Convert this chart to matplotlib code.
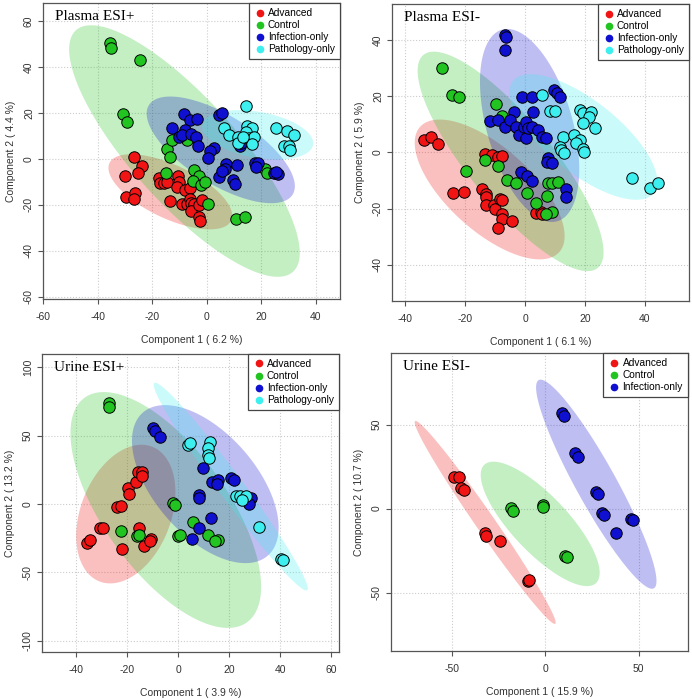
import numpy as np
import matplotlib
matplotlib.use('Agg')
import matplotlib.pyplot as plt
from matplotlib.patches import Polygon

plt.rcParams['font.family'] = ['Liberation Sans', 'DejaVu Sans']
plt.rcParams['axes.unicode_minus'] = False

# group colours
colors = {'Advanced': '#F01414', 'Control': '#22C422',
          'Infection-only': '#1010D0', 'Pathology-only': '#3EEFEF'}

# ---- Plasma ESI+ ----
p1_adv_x = [-26.7, -23.9, -25.3, -29.9, -29.5, -26.3, -26.6, -17.5, -17.0, -15.8, -14.5, -10.5, -10.3, -10.9,
            -7.8, -6.3, -13.3, -9.0, -7.2, -6.0, -5.7, -4.8, -5.7, -2.9, -1.7, -2.9, -2.3]
p1_adv_y = [0.6, -3.3, -6.2, -7.3, -16.4, -15.0, -17.6, -8.4, -10.6, -10.6, -9.9, -7.4, -9.9, -12.3,
            -13.5, -12.8, -18.3, -19.6, -19.6, -17.6, -19.3, -19.6, -22.8, -20.0, -17.9, -25.1, -26.9]
p1_con_x = [-35.3, -34.9, -24.5, -30.8, -29.1, -14.5, -13.3, -12.7, -7.2, -14.9, -4.5, -2.7, -5.0, -2.0,
            -0.6, 0.4, 10.6, 13.9, 21.5, 22.1]
p1_con_y = [50.4, 48.2, 43.1, 19.4, 16.1, 4.4, 0.7, 8.3, 8.3, -6.2, -4.8, -7.3, -9.6, -11.3,
            -9.9, -19.7, -26.1, -25.5, -4.5, -6.2]
p1_inf_x = [-8.5, -6.3, -3.7, -12.6, -8.1, -10.3, -9.0, -5.6, -3.9, -3.2, 4.5, 5.7, 2.6, 1.3, 0.4, 12.1,
            12.6, 7.0, 6.7, 4.6, 5.7, 11.1, 9.5, 10.5, 17.8, 18.8, 18.2, 24.5, 26.0, 25.4]
p1_inf_y = [19.6, 16.8, 17.4, 13.6, 12.6, 9.3, 10.3, 10.6, 9.3, 5.4, 18.9, 19.9, 4.9, 3.2, 0.4, 5.7,
            7.1, -2.2, -4.4, -7.7, -5.5, -2.5, -9.4, -10.9, -1.9, -1.6, -3.6, -6.1, -6.4, -5.8]
p1_pat_x = [14.5, 6.3, 8.2, 11.4, 11.4, 14.8, 16.7, 14.3, 15.4, 17.2, 16.5, 13.3, 25.5, 29.4, 32.1,
            28.4, 30.0, 30.4]
p1_pat_y = [23.1, 13.6, 10.4, 9.4, 6.8, 14.1, 13.2, 11.6, 9.0, 9.4, 6.4, 9.7, 13.6, 11.9, 10.2,
            5.7, 5.4, 3.9]

# ---- Plasma ESI- ----
p2_adv_x = [-33.7, -31.3, -29.0, -13.3, -10.9, -8.9, -7.8, -24.2, -20.5, -14.5, -13.2, -13.0, -13.2,
            -10.3, -10.1, -8.5, -7.8, -7.6, -7.6, -8.9, -4.2, 3.8, 5.2, 5.8]
p2_adv_y = [4.4, 5.5, 3.0, -0.4, -0.9, -1.5, -1.1, -14.3, -14.2, -13.0, -14.9, -16.0, -18.5,
            -18.5, -20.0, -16.6, -16.9, -21.9, -23.7, -27.0, -24.4, -21.4, -21.3, -21.9]
p2_con_x = [-27.6, -24.5, -21.9, -9.6, -7.6, -19.8, -13.3, -9.0, -6.2, -3.1, 0.6, 3.8, 7.2, 7.8, 8.9,
            11.0, 9.1, 7.1]
p2_con_y = [30.1, 20.3, 19.7, 17.3, 13.0, -6.5, -2.5, -4.7, -9.8, -11.0, -14.3, -17.8, -15.5, -11.0, -10.8,
            -10.5, -21.1, -22.0]
p2_inf_x = [-6.7, -6.5, -6.7, -0.9, 2.4, 9.8, 10.5, 11.7, 2.7, -3.7, -11.8, -9.2, -6.7, -5.1, -3.1, -2.0,
            -0.4, 0.2, 0.2, 1.1, 2.4, 4.4, 5.8, 6.9, 7.6, 7.3, 8.9, -1.2, 0.8, 2.2, 13.6, 13.8]
p2_inf_y = [41.9, 40.9, 36.6, 19.7, 19.9, 22.2, 21.0, 19.7, 14.3, 14.3, 11.3, 11.7, 9.0, 11.5, 9.0, 6.2,
            9.0, 10.8, 5.0, 8.8, 9.1, 7.9, 5.6, 5.3, -1.8, -3.3, -3.9, -6.9, -8.4, -10.0, -13.0, -15.8]
p2_pat_x = [5.8, 8.2, 9.9, 18.2, 19.4, 21.9, 21.4, 19.4, 23.4, 12.6, 16.2, 18.2, 17.1, 19.4, 19.8, 11.6,
            11.9, 13.0, 35.6, 41.6, 44.5]
p2_pat_y = [20.4, 14.8, 14.7, 15.0, 14.1, 14.3, 12.7, 10.5, 8.8, 5.6, 6.2, 4.4, 3.2, 1.4, 0.1, 2.0,
            0.8, -0.1, -9.2, -12.8, -11.0]

# ---- Urine ESI+ ----
p3_adv_x = [-35.9, -34.6, -30.7, -29.4, -24.2, -22.6, -22.1, -19.9, -19.2, -16.6, -16.0, -14.4, -14.4,
            -15.3, -13.5, -10.8, -11.1]
p3_adv_y = [-28.4, -26.0, -17.5, -17.5, -2.4, -1.7, -32.6, 11.4, 7.5, 16.0, 23.1, 23.6, 20.7,
            -17.5, -30.9, -25.5, -27.2]
p3_con_x = [-27.3, -27.2, -22.6, -16.3, -15.3, -2.2, -1.3, 5.6, 0.0, 0.7, 11.8, 15.4, 14.4]
p3_con_y = [73.6, 71.2, -19.9, -23.6, -22.4, 0.7, -0.5, -13.4, -23.6, -22.8, -22.8, -26.0, -27.2]
p3_inf_x = [-10.1, -9.0, -7.1, 9.7, 8.1, 8.0, 13.3, 15.7, 15.3, 20.8, 22.0, 12.8, 8.2, 5.2, 28.4, 27.5]
p3_inf_y = [55.9, 53.7, 49.3, 26.2, 6.3, 4.4, 16.3, 17.7, 14.8, 19.2, 17.7, -10.2, -17.5, -25.5, 4.4, 0.2]
p3_pat_x = [3.9, 4.6, 12.2, 11.8, 11.5, 12.0, 22.6, 24.2, 26.5, 24.8, 31.8, 40.1, 40.9]
p3_pat_y = [43.3, 44.5, 45.0, 40.8, 36.0, 33.5, 5.6, 6.1, 5.6, 3.2, -16.8, -40.1, -41.1]

# ---- Urine ESI- ----
p4_adv_x = [-48.8, -46.2, -45.3, -43.5, -32.2, -31.5, -24.3, -9.5, -8.6]
p4_adv_y = [18.7, 19.1, 12.5, 11.1, -14.7, -16.1, -19.3, -42.9, -42.5]
p4_con_x = [-18.4, -17.5, -1.4, -1.1, 10.7, 11.4]
p4_con_y = [0.6, -1.2, 2.0, 1.2, -28.2, -29.0]
p4_inf_x = [8.9, 10.2, 15.7, 17.7, 27.2, 28.1, 30.4, 31.7, 37.9, 45.8, 47.2]
p4_inf_y = [56.9, 54.9, 33.0, 31.0, 10.1, 8.7, -2.8, -3.8, -14.7, -6.4, -6.8]

panels = [
    {'title': 'Plasma ESI+', 'xlab': 'Component 1 ( 6.2 %)', 'ylab': 'Component 2 ( 4.4 %)',
     'groups': {'Advanced': (p1_adv_x, p1_adv_y), 'Control': (p1_con_x, p1_con_y),
                'Infection-only': (p1_inf_x, p1_inf_y), 'Pathology-only': (p1_pat_x, p1_pat_y)},
     'xlim': (-60, 48.8), 'ylim': (-61, 67.8), 'xticks': [-60, -40, -20, 0, 20, 40],
     'yticks': [-60, -40, -20, 0, 20, 40, 60], 'pos': [0.0621, 0.5722, 0.4292, 0.4235]},
    {'title': 'Plasma ESI-', 'xlab': 'Component 1 ( 6.1 %)', 'ylab': 'Component 2 ( 5.9 %)',
     'groups': {'Advanced': (p2_adv_x, p2_adv_y), 'Control': (p2_con_x, p2_con_y),
                'Infection-only': (p2_inf_x, p2_inf_y), 'Pathology-only': (p2_pat_x, p2_pat_y)},
     'xlim': (-44.4, 54.7), 'ylim': (-52.8, 52.8), 'xticks': [-40, -20, 0, 20, 40],
     'yticks': [-40, -20, 0, 20, 40], 'pos': [0.5665, 0.5694, 0.4292, 0.4249]},
    {'title': 'Urine ESI+', 'xlab': 'Component 1 ( 3.9 %)', 'ylab': 'Component 2 ( 13.2 %)',
     'groups': {'Advanced': (p3_adv_x, p3_adv_y), 'Control': (p3_con_x, p3_con_y),
                'Infection-only': (p3_inf_x, p3_inf_y), 'Pathology-only': (p3_pat_x, p3_pat_y)},
     'xlim': (-53.5, 63), 'ylim': (-108.2, 109.7), 'xticks': [-40, -20, 0, 20, 40, 60],
     'yticks': [-100, -50, 0, 50, 100], 'pos': [0.0607, 0.0672, 0.4292, 0.4264]},
    {'title': 'Urine ESI-', 'xlab': 'Component 1 ( 15.9 %)', 'ylab': 'Component 2 ( 10.7 %)',
     'groups': {'Advanced': (p4_adv_x, p4_adv_y), 'Control': (p4_con_x, p4_con_y),
                'Infection-only': (p4_inf_x, p4_inf_y)},
     'xlim': (-82.7, 76.5), 'ylim': (-84.8, 92.7), 'xticks': [-50, 0, 50],
     'yticks': [-50, 0, 50], 'pos': [0.565, 0.0687, 0.4292, 0.4263]},
]


def conf_ellipse(x, y, level_scale=np.sqrt(5.991), n=200):
    # 95% confidence ellipse from the group covariance
    pts = np.column_stack([x, y])
    mu = pts.mean(axis=0)
    cov = np.cov(pts, rowvar=False)
    vals, vecs = np.linalg.eigh(cov)
    t = np.linspace(0, 2 * np.pi, n)
    circ = np.column_stack([np.cos(t), np.sin(t)]) * np.sqrt(vals) * level_scale
    return circ @ vecs.T + mu


fig = plt.figure(figsize=(6.92, 6.99), dpi=100)

for p in panels:
    ax = fig.add_axes(p['pos'])
    for name, (gx, gy) in p['groups'].items():
        ax.add_patch(Polygon(conf_ellipse(gx, gy), closed=True, facecolor=colors[name],
                             alpha=0.27, edgecolor='none', zorder=1))
    for name, (gx, gy) in p['groups'].items():
        ax.scatter(gx, gy, s=68, c=colors[name], edgecolors='black', linewidths=0.7, zorder=3)
        ax.plot([], [], 'o', color=colors[name], markersize=4.5, label=name)

    ax.set_xlim(p['xlim'])
    ax.set_ylim(p['ylim'])
    ax.set_xticks(p['xticks'])
    ax.set_yticks(p['yticks'])
    ax.grid(True, linestyle=':', color='#cccccc', linewidth=0.8, zorder=0)
    ax.set_axisbelow(True)
    for s in ax.spines.values():
        s.set_color('#555555')
        s.set_linewidth(0.9)
    ax.tick_params(length=3.5, width=0.8, color='#555555', labelsize=7.5, labelcolor='#333333')
    ax.tick_params(axis='x', pad=6)
    ax.tick_params(axis='y', pad=3)
    for lab in ax.get_yticklabels():
        lab.set_rotation(90)
        lab.set_va('center')
    ax.set_xlabel(p['xlab'], fontsize=7.5, color='#333333', labelpad=9)
    ax.set_ylabel(p['ylab'], fontsize=7.5, color='#333333', labelpad=6)
    ax.text(0.04, 0.975, p['title'], transform=ax.transAxes, ha='left', va='top',
            fontsize=11, family=['Liberation Serif', 'DejaVu Serif'], zorder=5)
    leg = ax.legend(loc='upper right', fontsize=7.3, frameon=True, fancybox=False,
                    borderaxespad=0, handletextpad=0.2, handlelength=1.2, borderpad=0.5,
                    labelspacing=0.2)
    leg.get_frame().set_edgecolor('#444444')
    leg.get_frame().set_linewidth(0.9)
    leg.get_frame().set_alpha(1)
    leg.set_zorder(6)

fig.savefig('out.png', dpi=100)
